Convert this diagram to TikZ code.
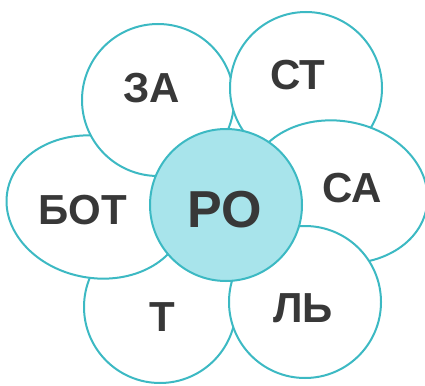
\documentclass[tikz,border=0pt]{standalone}
\usepackage{fontspec}
\setmainfont{Liberation Sans}
\usetikzlibrary{shapes.geometric}
\definecolor{petalline}{HTML}{3CB9C3}
\definecolor{corefill}{HTML}{A8E4EB}
\definecolor{wordgray}{HTML}{383838}
\begin{document}
\begin{tikzpicture}[x=1pt,y=-1pt,petal/.style={circle, draw=petalline, line width=2pt, fill=white, inner sep=0pt, minimum size=152pt},longpetal/.style={ellipse, draw=petalline, line width=2pt, fill=white, inner sep=0pt, minimum width=180pt, minimum height=142pt, rotate=-10},core/.style={circle, draw=petalline, line width=2pt, fill=corefill, inner sep=0pt, minimum size=152pt},word/.style={inner sep=0pt, text=wordgray, font=\fontsize{42}{42}\selectfont\bfseries},bigword/.style={word, font=\fontsize{52}{52}\selectfont\bfseries}]
\useasboundingbox (0,0) rectangle (425,385);
% left petals, bottom one first
\node[petal] (t) at (160,307) {};
\node[longpetal] (bot) at (96,207) {};
\node[petal] (za) at (158,100) {};
% right petals
\node[petal] (st) at (306,88) {};
\node[longpetal] (sa) at (338,192) {};
\node[petal] (l) at (305,302) {};
% middle
\node[core] (ro) at (226,205) {};
% words
\node[word] (za-w) at (152,88) {ЗА};
\node[word] (st-w) at (298,75) {СТ};
\node[word] (sa-w) at (352,188) {СА};
\node[word] (bot-w) at (83,210) {БОТ};
\node[word] (t-w) at (162,317) {Т};
\node[word] (l-w) at (303,308) {ЛЬ};
\node[bigword] (ro-w) at (225,210) {РО};
\end{tikzpicture}
\end{document}
